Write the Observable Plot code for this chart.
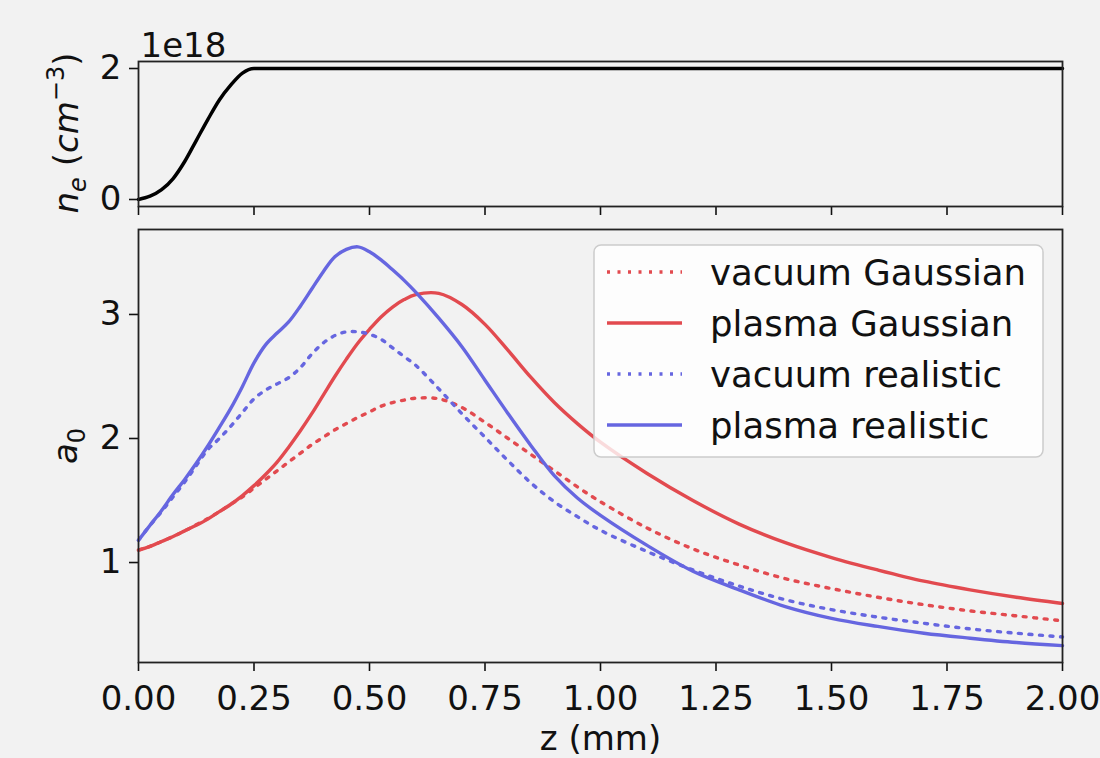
<!DOCTYPE html>
<html><head><meta charset="utf-8">
<script src="https://cdn.jsdelivr.net/npm/d3@7"></script>
<script src="https://cdn.jsdelivr.net/npm/@observablehq/plot@0.6"></script>
<style>
html,body{margin:0;padding:0;background:#f2f2f2;}
#chart{width:1100px;height:758px;background:#f2f2f2;overflow:hidden;}
#chart svg{display:block;}
</style></head><body><div id="chart"></div>
<script>
// ---- data ----
const zGrid = [0,0.025,0.05,0.075,0.1,0.125,0.15,0.175,0.2,0.225,0.25,0.275,0.3,0.325,0.35,0.375,0.4,0.425,0.45,0.475,0.5,0.525,0.55,0.575,0.6,0.65,0.7,0.75,0.8,0.85,0.9,0.95,1.0,1.1,1.2,1.3,1.4,1.5,1.6,1.7,1.8,1.9,2.0];
const vacuumGaussian = [1.10,1.13,1.17,1.21,1.255,1.305,1.355,1.41,1.47,1.53,1.60,1.67,1.74,1.81,1.88,1.95,2.01,2.07,2.12,2.17,2.215,2.26,2.29,2.31,2.325,2.32,2.25,2.13,2.00,1.87,1.74,1.61,1.49,1.28,1.11,0.98,0.87,0.79,0.72,0.66,0.61,0.57,0.53];
const plasmaGaussian = [1.10,1.13,1.17,1.21,1.255,1.30,1.35,1.41,1.47,1.54,1.62,1.71,1.81,1.93,2.06,2.20,2.35,2.50,2.64,2.77,2.88,2.98,3.06,3.12,3.16,3.17,3.08,2.92,2.71,2.49,2.29,2.12,1.97,1.72,1.50,1.31,1.16,1.04,0.94,0.85,0.78,0.72,0.67];
const vacuumRealistic = [1.18,1.30,1.41,1.53,1.65,1.78,1.91,2.00,2.10,2.21,2.32,2.39,2.44,2.49,2.57,2.68,2.77,2.83,2.86,2.86,2.84,2.80,2.73,2.66,2.59,2.40,2.20,2.01,1.82,1.64,1.49,1.37,1.26,1.09,0.94,0.81,0.70,0.62,0.56,0.51,0.465,0.43,0.40];
const plasmaRealistic = [1.18,1.30,1.42,1.55,1.67,1.80,1.94,2.09,2.245,2.42,2.61,2.755,2.85,2.94,3.065,3.205,3.345,3.465,3.525,3.545,3.505,3.44,3.36,3.275,3.18,2.97,2.74,2.47,2.20,1.94,1.70,1.52,1.38,1.14,0.93,0.78,0.645,0.55,0.485,0.43,0.39,0.355,0.33];

const neZ = [0,0.025,0.05,0.075,0.1,0.125,0.15,0.175,0.2,0.225,0.25,2.0];
const neValues = [0,0.05,0.15,0.32,0.58,0.90,1.22,1.52,1.75,1.93,2.0,2.0]; // in units of 1e18 cm^-3

const xTicks = [0,0.25,0.5,0.75,1.0,1.25,1.5,1.75,2.0];
const neTicks = [0,2];
const a0Ticks = [1,2,3];
const seriesNames = ["vacuum Gaussian","plasma Gaussian","vacuum realistic","plasma realistic"];
const seriesValues = [vacuumGaussian, plasmaGaussian, vacuumRealistic, plasmaRealistic];
const seriesColors = ["#e24a4f","#e24a4f","#6666e0","#6666e0"];
const seriesDotted = [true,false,true,false];

// ---- layout ----
const FONT = "'DejaVu Sans', sans-serif";
const W = 1100, LEFT = 138, RIGHT = 38;
const FS = 34;
const INK = "#111";
const DOTS = "3,7.5";

const neData = neZ.map((z,i) => ({z, n: neValues[i]}));
const topPlot = Plot.plot({
  width: W, height: 218, marginTop: 61, marginBottom: 12, marginLeft: LEFT, marginRight: RIGHT,
  style: {background: "transparent", fontFamily: FONT, fontSize: FS + "px", color: INK},
  x: {domain: [0, 2], axis: null},
  y: {domain: [-0.107, 2.107]},
  marks: [
    Plot.tickX(xTicks, {x: d => d, stroke: INK, strokeWidth: 1.6, insetTop: 145, insetBottom: -9}),
    Plot.axisY({ticks: neTicks, tickSize: 9, tickPadding: 8, tickFormat: d => String(d), label: null, fontSize: FS, strokeWidth: 1.6}),
    Plot.line(neData, {x: "z", y: "n", stroke: "#000", strokeWidth: 3.5, curve: "monotone-x"}),
    Plot.frame({stroke: "#222", strokeWidth: 1.8}),
    Plot.text(["1e18"], {frameAnchor: "top-left", textAnchor: "start", lineAnchor: "bottom", dx: 2, dy: -5, fontSize: FS, fill: INK})
  ]
});

const lineData = [];
seriesNames.forEach((name, s) => zGrid.forEach((z, i) => lineData.push({z, a: seriesValues[s][i], series: name})));

const bottomPlot = Plot.plot({
  width: W, height: 540, marginTop: 11, marginBottom: 96, marginLeft: LEFT, marginRight: RIGHT,
  style: {background: "transparent", fontFamily: FONT, fontSize: FS + "px", color: INK},
  x: {domain: [0, 2]},
  y: {domain: [0.194, 3.685]},
  marks: [
    Plot.axisX({ticks: xTicks, tickSize: 9, tickPadding: 14, tickFormat: d3.format(".2f"), label: null, fontSize: FS, strokeWidth: 1.6}),
    Plot.axisY({ticks: a0Ticks, tickSize: 9, tickPadding: 8, tickFormat: d => String(d), label: null, fontSize: FS, strokeWidth: 1.6}),
    ...seriesNames.map((name, s) => Plot.line(lineData.filter(d => d.series === name), {
      x: "z", y: "a", stroke: seriesColors[s], strokeWidth: 3.4,
      strokeDasharray: seriesDotted[s] ? DOTS : null, curve: "catmull-rom"
    })),
    Plot.frame({stroke: "#222", strokeWidth: 1.8}),
    Plot.text(["z (mm)"], {frameAnchor: "bottom", dy: 87, fontSize: FS, fill: INK})
  ]
});

const chart = document.getElementById("chart");
chart.appendChild(topPlot);
chart.appendChild(bottomPlot);

// ---- y labels with sub/superscripts ----
const tTop = d3.select(topPlot).append("text")
  .attr("transform", "translate(78,133) rotate(-90)")
  .attr("text-anchor", "middle").attr("font-family", FONT).attr("font-size", FS).attr("fill", INK);
tTop.append("tspan").attr("font-style", "italic").text("n");
tTop.append("tspan").attr("font-style", "italic").attr("font-size", 24).attr("dy", 8).text("e");
tTop.append("tspan").attr("dy", -8).text(" (");
tTop.append("tspan").attr("font-style", "italic").text("cm");
tTop.append("tspan").attr("font-size", 24).attr("dy", -14).text("−3");
tTop.append("tspan").attr("dy", 14).text(")");

const tBot = d3.select(bottomPlot).append("text")
  .attr("transform", "translate(77,228) rotate(-90)")
  .attr("text-anchor", "middle").attr("font-family", FONT).attr("font-size", FS).attr("fill", INK);
tBot.append("tspan").attr("font-style", "italic").text("a");
tBot.append("tspan").attr("font-size", 24).attr("dy", 8).text("0");

// ---- legend ----
const lg = d3.select(bottomPlot).append("g").attr("font-family", FONT).attr("font-size", 35.5).attr("text-anchor", "start");
lg.append("rect").attr("x", 594).attr("y", 27).attr("width", 449).attr("height", 212).attr("rx", 7)
  .attr("fill", "#ffffff").attr("fill-opacity", 0.8).attr("stroke", "#cccccc").attr("stroke-width", 1.5);
seriesNames.forEach((name, i) => {
  const cy = 54 + i * 51;
  lg.append("line").attr("x1", 607).attr("x2", 682).attr("y1", cy).attr("y2", cy)
    .attr("stroke", seriesColors[i]).attr("stroke-width", 3.4)
    .attr("stroke-dasharray", seriesDotted[i] ? DOTS : null);
  lg.append("text").attr("x", 710).attr("y", cy).attr("dy", "0.36em").attr("text-anchor", "start").attr("fill", INK).text(name);
});
</script>
</body></html>
